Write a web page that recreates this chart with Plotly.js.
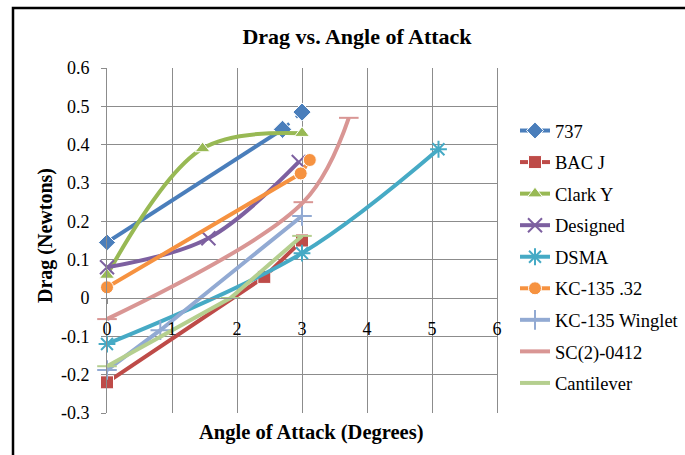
<!DOCTYPE html>
<html>
<head>
<meta charset="utf-8">
<script src="https://cdn.plot.ly/plotly-3.0.1.min.js"></script>
<style>
html,body{margin:0;padding:0;background:#fff;}
#chart{width:685px;height:455px;}
</style>
</head>
<body>
<div id="chart"></div>
<script>
// ---- data ----
const seriesNames = ["737","BAC J","Clark Y","Designed","DSMA","KC-135 .32","KC-135 Winglet","SC(2)-0412","Cantilever"];
const x737 = [0, 2.7];
const y737 = [0.145, 0.44];
const x737dash = [2.7, 3.0];
const y737dash = [0.44, 0.485];
const xBACJ = [0, 2.42, 3.0];
const yBACJ = [-0.22, 0.055, 0.15];
const xClarkY = [0, 1.47, 3.0];
const yClarkY = [0.06, 0.39, 0.43];
const xDesigned = [0, 1.56, 2.95];
const yDesigned = [0.08, 0.156, 0.355];
const xDSMA = [0, 3.0, 5.1];
const yDSMA = [-0.12, 0.117, 0.388];
const xKC32 = [0, 2.98, 3.12];
const yKC32 = [0.028, 0.325, 0.36];
const xWinglet = [0, 0.82, 3.0];
const yWinglet = [-0.188, -0.084, 0.214];
const xSC = [0, 3.02, 3.72];
const ySC = [-0.055, 0.25, 0.47];
const xCant = [0, 1.9, 3.0];
const yCant = [-0.178, 0.0, 0.162];
const xTickVals = [0,1,2,3,4,5,6];
const yTickVals = [-0.3,-0.2,-0.1,0,0.1,0.2,0.3,0.4,0.5,0.6];
const yTickText = ["-0.3","-0.2","-0.1","0","0.1","0.2","0.3","0.4","0.5","0.6"];

const colors = ["#4A7EBB","#BE4B48","#98B954","#7D60A0","#46AAC5","#F69240","#92AAD3","#D99694","#B5CF8F"];
const symbols = ["diamond","square","triangle-up","x-thin-open","asterisk-open","circle","cross-thin-open","line-ew-open","line-ew-open"];
const shapes = ["linear","linear","spline","spline","spline","linear","linear","spline","linear"];
const xs = [x737,xBACJ,xClarkY,xDesigned,xDSMA,xKC32,xWinglet,xSC,xCant];
const ys = [y737,yBACJ,yClarkY,yDesigned,yDSMA,yKC32,yWinglet,ySC,yCant];

const FONT = "Liberation Serif, Times New Roman, serif";
const traces = [];
for (let i = 0; i < seriesNames.length; i++) {
  const open = symbols[i].indexOf("open") >= 0;
  traces.push({
    type: "scatter", mode: "lines+markers", name: seriesNames[i],
    x: xs[i], y: ys[i], legendgroup: "g" + i, cliponaxis: false,
    line: {color: colors[i], width: 4, shape: shapes[i]},
    marker: {symbol: symbols[i], size: open ? 14 : 13, color: colors[i],
             line: {color: open ? colors[i] : "#ffffff", width: open ? 2 : 1}}
  });
  if (i === 0) {
    traces.push({
      type: "scatter", mode: "lines+markers", showlegend: false, legendgroup: "g0", cliponaxis: false,
      x: x737dash, y: y737dash,
      line: {color: colors[0], width: 3, dash: "dash"},
      marker: {symbol: "diamond", size: 14, color: colors[0], line: {color: "#ffffff", width: 1}}
    });
  }
}

// pixel -> paper helpers (plot area: x 107..497, y 68..413)
const L = 107, R = 188, T = 68, B = 42, W = 685, H = 455;
const pw = W - L - R, ph = H - T - B;
const px = p => (p - L) / pw;
const py = p => (H - B - p) / ph;

const layout = {
  width: W, height: H,
  paper_bgcolor: "#ffffff", plot_bgcolor: "#ffffff",
  margin: {l: L, r: R, t: T, b: B, pad: 0, autoexpand: false},
  font: {family: FONT, color: "#000000", size: 18},
  title: {text: "<b>Drag vs. Angle of Attack</b>", font: {family: FONT, size: 22, color: "#000"},
          x: 357 / W, xref: "container", xanchor: "center", y: 1 - 36.5 / H, yref: "container", yanchor: "middle"},
  xaxis: {range: [0, 6], tickvals: xTickVals, ticktext: xTickVals.map(String),
          anchor: "free", position: 1/3, showgrid: true, gridcolor: "#8c8c8c", gridwidth: 1,
          zeroline: false, showline: true, linecolor: "#8c8c8c", linewidth: 1,
          ticks: "outside", ticklen: 5, tickcolor: "#8c8c8c", ticklabelstandoff: 9,
          tickfont: {family: FONT, size: 18, color: "#000"}, automargin: false},
  yaxis: {range: [-0.3, 0.6], tickvals: yTickVals, ticktext: yTickText,
          showgrid: true, gridcolor: "#8c8c8c", gridwidth: 1, zeroline: false,
          showline: true, mirror: true, linecolor: "#8c8c8c", linewidth: 1,
          ticks: "outside", ticklen: 5, tickcolor: "#8c8c8c", ticklabelstandoff: 8,
          tickfont: {family: FONT, size: 18, color: "#000"}, automargin: false},
  legend: {x: px(515), xanchor: "left", y: py(112), yanchor: "top",
           font: {family: FONT, size: 18.5, color: "#000"}, tracegroupgap: 4.5,
           bgcolor: "rgba(0,0,0,0)", borderwidth: 0, itemwidth: 30},
  annotations: [
    {text: "<b>Angle of Attack (Degrees)</b>", xref: "paper", yref: "paper",
     x: px(311), y: py(432), xanchor: "center", yanchor: "middle", showarrow: false,
     font: {family: FONT, size: 20.5, color: "#000"}},
    {text: "<b>Drag (Newtons)</b>", xref: "paper", yref: "paper", textangle: -90,
     x: px(45), y: py(236), xanchor: "center", yanchor: "middle", showarrow: false,
     font: {family: FONT, size: 20, color: "#000"}}
  ],
  shapes: [
    {type: "rect", xref: "paper", yref: "paper", x0: px(13), y0: py(8), x1: px(720), y1: py(500),
     line: {color: "#000", width: 2.5}, fillcolor: "rgba(0,0,0,0)", layer: "above"}
  ]
};

Plotly.newPlot("chart", traces, layout, {displayModeBar: false, staticPlot: true});
</script>
</body>
</html>
